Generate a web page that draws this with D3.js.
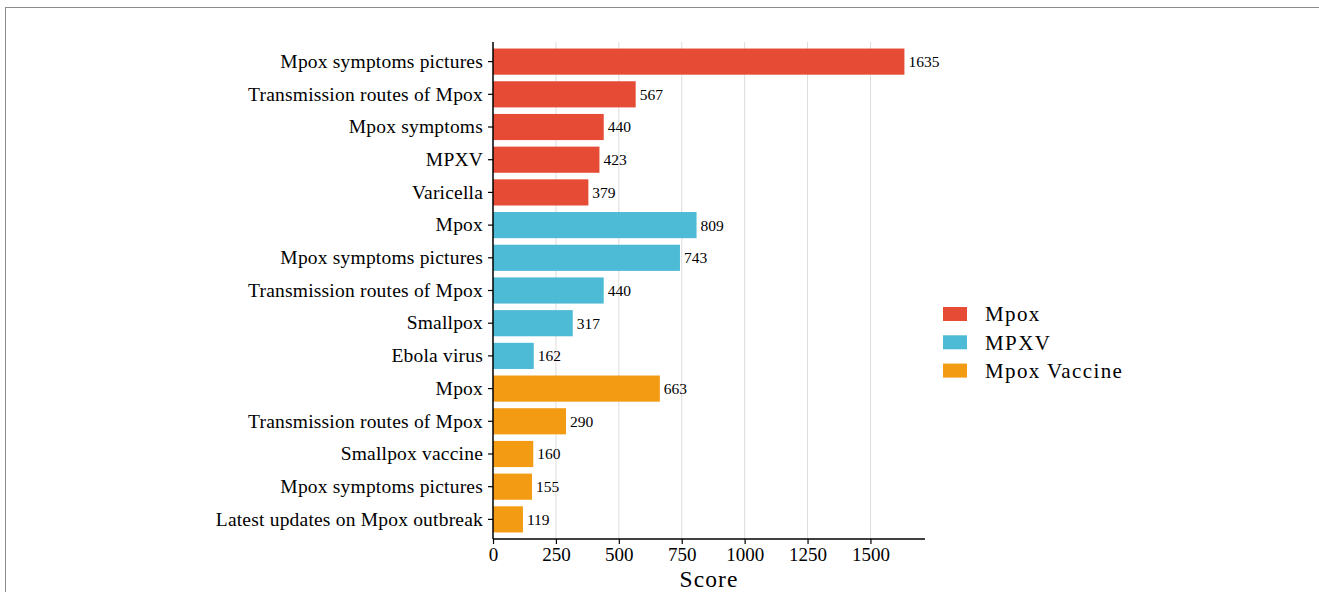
<!DOCTYPE html>
<html>
<head>
<meta charset="utf-8">
<script src="https://cdn.jsdelivr.net/npm/d3@7"></script>
<style>
  html, body { margin: 0; padding: 0; background: #fff; }
  svg { display: block; }
  text { font-family: "Liberation Serif", "Times New Roman", serif; fill: #000; }
</style>
</head>
<body>
<svg id="chart" width="1319" height="592"></svg>
<script>
// Search terms, grouped by the keyword they were associated with
const terms = [
  "Mpox symptoms pictures", "Transmission routes of Mpox", "Mpox symptoms", "MPXV", "Varicella",
  "Mpox", "Mpox symptoms pictures", "Transmission routes of Mpox", "Smallpox", "Ebola virus",
  "Mpox", "Transmission routes of Mpox", "Smallpox vaccine", "Mpox symptoms pictures", "Latest updates on Mpox outbreak"
];
const groups = [
  "Mpox", "Mpox", "Mpox", "Mpox", "Mpox",
  "MPXV", "MPXV", "MPXV", "MPXV", "MPXV",
  "Mpox Vaccine", "Mpox Vaccine", "Mpox Vaccine", "Mpox Vaccine", "Mpox Vaccine"
];
const scores = [1635, 567, 440, 423, 379, 809, 743, 440, 317, 162, 663, 290, 160, 155, 119];
const groupNames = ["Mpox", "MPXV", "Mpox Vaccine"];
const groupColors = ["#E64B35", "#4DBBD5", "#F39B12"];
const xTicks = [0, 250, 500, 750, 1000, 1250, 1500];

const rows = terms.map((t, i) => ({ key: i, term: t, group: groups[i], score: scores[i] }));

const svg = d3.select("#chart");

// page frame (top and left edges)
svg.append("line").attr("x1", 5).attr("x2", 1319).attr("y1", 7.5).attr("y2", 7.5)
  .attr("stroke", "#8c8c8c").attr("stroke-width", 1);
svg.append("line").attr("x1", 5.5).attr("x2", 5.5).attr("y1", 7).attr("y2", 592)
  .attr("stroke", "#8c8c8c").attr("stroke-width", 1);

const plotLeft = 493, plotRight = 925, plotTop = 42, plotBottom = 539;

const x = d3.scaleLinear()
  .domain([0, d3.max(scores) * 1.05])
  .range([plotLeft, plotRight]);

const y = d3.scaleBand()
  .domain(rows.map(d => d.key))
  .range([plotTop, plotBottom])
  .paddingInner(0.2)
  .paddingOuter(0.2);

const color = d3.scaleOrdinal().domain(groupNames).range(groupColors);

// vertical grid lines
svg.append("g").selectAll("line")
  .data(xTicks.filter(t => t > 0))
  .join("line")
  .attr("x1", d => x(d)).attr("x2", d => x(d))
  .attr("y1", plotTop).attr("y2", plotBottom)
  .attr("stroke", "#dcdcdc").attr("stroke-width", 1);

// bars
svg.append("g").selectAll("rect")
  .data(rows)
  .join("rect")
  .attr("x", x(0))
  .attr("y", d => y(d.key))
  .attr("width", d => x(d.score) - x(0))
  .attr("height", y.bandwidth())
  .attr("fill", d => color(d.group));

// value labels
svg.append("g").selectAll("text")
  .data(rows)
  .join("text")
  .attr("x", d => x(d.score) + 4)
  .attr("y", d => y(d.key) + y.bandwidth() / 2)
  .attr("dy", "0.35em")
  .attr("font-size", 15.5)
  .text(d => d.score);

// y axis
const yAxis = svg.append("g")
  .attr("transform", `translate(${plotLeft},0)`)
  .call(d3.axisLeft(y).tickFormat(i => terms[i]).tickSize(5).tickPadding(5));
yAxis.select(".domain").attr("stroke", "#000").attr("stroke-width", 1.5)
  .attr("d", `M0,${plotTop}V${plotBottom}`);
yAxis.selectAll(".tick line").attr("stroke", "#000").attr("stroke-width", 1.2);
yAxis.selectAll(".tick text").attr("font-size", 19.5).attr("letter-spacing", 0.2)
  .attr("font-family", "Liberation Serif").attr("fill", "#000");

// x axis
const xAxis = svg.append("g")
  .attr("transform", `translate(0,${plotBottom})`)
  .call(d3.axisBottom(x).tickValues(xTicks).tickFormat(d3.format("d")).tickSize(5).tickPadding(4));
xAxis.select(".domain").attr("stroke", "#000").attr("stroke-width", 1.5)
  .attr("d", `M${plotLeft},0H${plotRight}`);
xAxis.selectAll(".tick line").attr("stroke", "#000").attr("stroke-width", 1.2);
xAxis.selectAll(".tick text").attr("font-size", 19).attr("font-family", "Liberation Serif").attr("fill", "#000");

// x axis title
svg.append("text")
  .attr("x", (plotLeft + plotRight) / 2)
  .attr("y", 587)
  .attr("text-anchor", "middle")
  .attr("font-size", 23.5)
  .attr("letter-spacing", 1.1)
  .text("Score");

// legend
const legend = svg.append("g").attr("transform", "translate(943,307)");
groupNames.forEach((g, i) => {
  const row = legend.append("g").attr("transform", `translate(0,${i * 28.3})`);
  row.append("rect").attr("width", 24).attr("height", 14).attr("fill", color(g));
  row.append("text").attr("x", 42).attr("y", 7).attr("dy", "0.35em")
    .attr("font-size", 21).attr("letter-spacing", 1.4).text(g);
});
</script>
</body>
</html>
